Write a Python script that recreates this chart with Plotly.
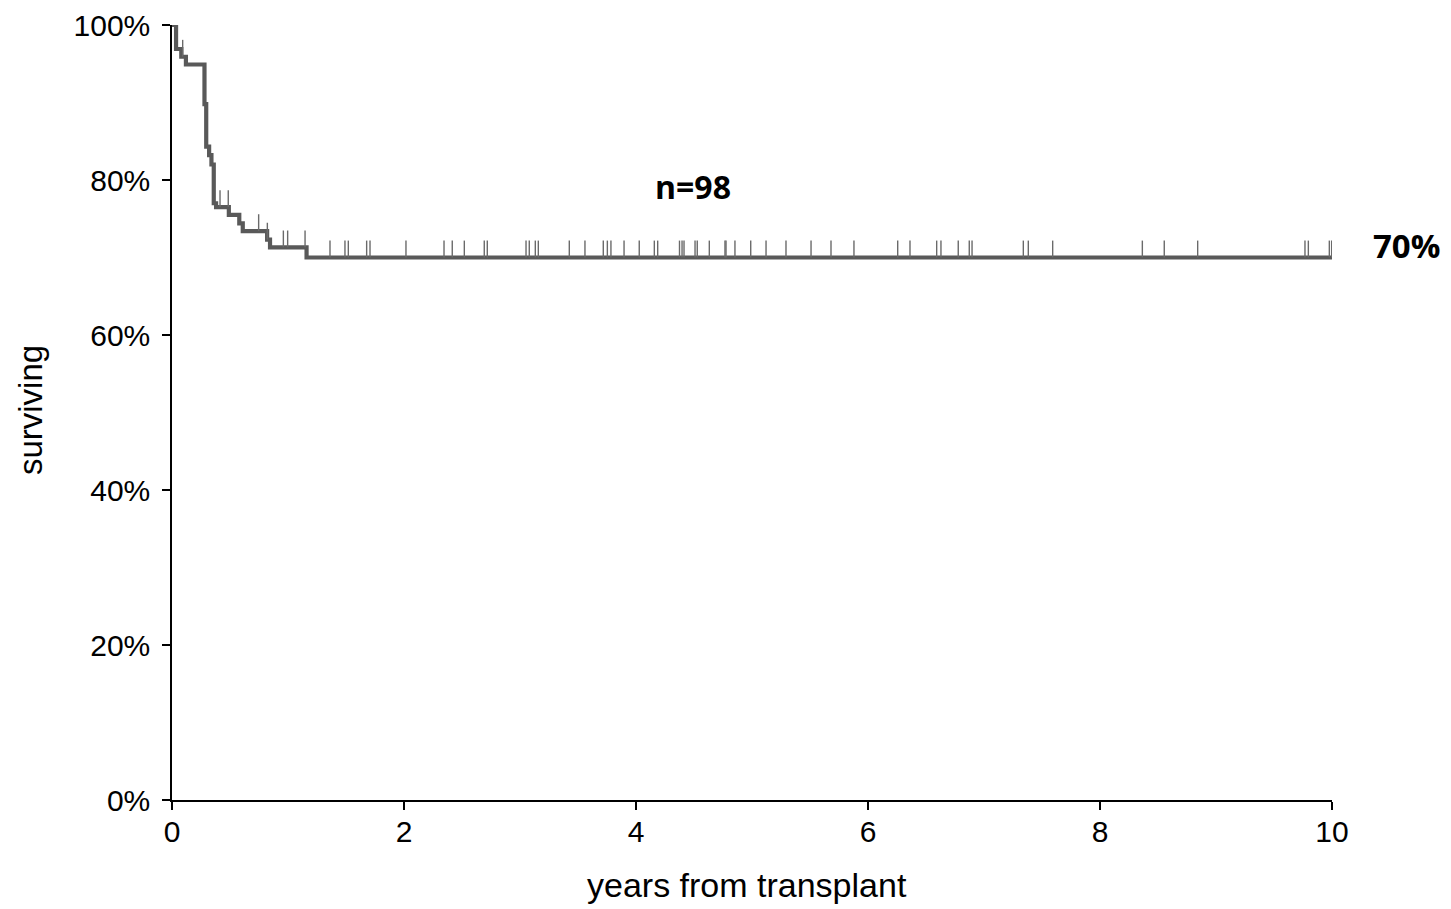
import numpy as np
import plotly.graph_objects as go

# Kaplan-Meier estimate: event times (years) and survival (%) after each step
event_years = [0.0, 0.035, 0.08, 0.12, 0.28, 0.295, 0.32, 0.34, 0.36, 0.38,
               0.49, 0.58, 0.61, 0.82, 0.845, 1.16, 10.0]
survival_pct = [100.0, 96.9, 95.9, 94.9, 89.8, 84.3, 83.2, 82.0, 77.0, 76.5,
                75.5, 74.4, 73.4, 72.3, 71.3, 70.0, 70.0]

# censored observations (years)
censored_years = [0.092, 0.414, 0.485, 0.747, 0.822, 0.960, 0.997, 1.147,
                  1.362, 1.491, 1.520, 1.678, 1.707, 2.017, 2.345, 2.416,
                  2.520, 2.692, 2.718, 3.052, 3.080, 3.132, 3.158, 3.425,
                  3.560, 3.718, 3.753, 3.784, 3.897, 4.028, 4.158, 4.187,
                  4.375, 4.397, 4.414, 4.509, 4.528, 4.632, 4.767, 4.776,
                  4.853, 4.989, 5.121, 5.293, 5.509, 5.681, 5.879, 6.256,
                  6.362, 6.592, 6.629, 6.778, 6.873, 6.897, 7.339, 7.382,
                  7.592, 8.365, 8.554, 8.842, 9.767, 9.796, 9.977, 9.997]

n_label = "n=98"
final_label = "70%"
final_value = 70.0
x_ticks = [0, 2, 4, 6, 8, 10]
y_ticks = [0, 20, 40, 60, 80, 100]
y_tick_text = [f"{v}%" for v in y_ticks]

# survival level at each censoring time (step function, right-continuous)
ev = np.array(event_years)
sv = np.array(survival_pct)
idx = np.searchsorted(ev, np.array(censored_years), side="right") - 1
cens_level = sv[idx]

fig = go.Figure()

fig.add_trace(go.Scatter(
    x=event_years, y=survival_pct, mode="lines",
    line=dict(shape="hv", color="#595959", width=4.2),
    hoverinfo="skip", showlegend=False,
))

# censor ticks drawn just above the curve
fig.add_trace(go.Scatter(
    x=censored_years, y=cens_level + 1.1, mode="markers",
    marker=dict(symbol="line-ns", size=12,
                line=dict(color="#6a6a6a", width=1.4)),
    hoverinfo="skip", showlegend=False,
))

fig.add_annotation(x=4.49, y=79.1, text=f"<b>{n_label}</b>", showarrow=False,
                   font=dict(family="Open Sans", size=32, color="#000"),
                   xanchor="center", yanchor="middle")
# final survival label, right of the plot area
fig.add_annotation(xref="paper", x=1.0638, y=final_value + 1.6,
                   text=f"<b>{final_label}</b>", showarrow=False,
                   font=dict(family="Open Sans", size=33, color="#000"),
                   xanchor="center", yanchor="middle")

# axis titles
fig.add_annotation(xref="paper", yref="paper", x=0.496, y=-0.110,
                   text="years from transplant", showarrow=False,
                   font=dict(family="Liberation Sans", size=34, color="#000"),
                   xanchor="center", yanchor="middle")
fig.add_annotation(xref="paper", yref="paper", x=-0.1225, y=0.503,
                   text="surviving", showarrow=False, textangle=-90,
                   font=dict(family="Liberation Sans", size=33, color="#000"),
                   xanchor="center", yanchor="middle")

axis_common = dict(
    showgrid=False, zeroline=False, showline=True, linecolor="#000",
    linewidth=1.5, ticks="outside", ticklen=8, tickcolor="#000",
    tickwidth=1.5, automargin=False,
    tickfont=dict(family="Liberation Sans", size=30, color="#000"),
)

fig.update_xaxes(range=[0, 10], tickvals=x_ticks, ticklabelstandoff=-4,
                 **axis_common)
fig.update_yaxes(range=[0, 100], tickvals=y_ticks, ticktext=y_tick_text,
                 ticklabelstandoff=6, **axis_common)

fig.update_layout(
    width=1451, height=909, autosize=False,
    margin=dict(l=172, r=119, t=25, b=109, pad=0, autoexpand=False),
    plot_bgcolor="white", paper_bgcolor="white",
)

fig.write_html("out.html", config={"displayModeBar": False})
